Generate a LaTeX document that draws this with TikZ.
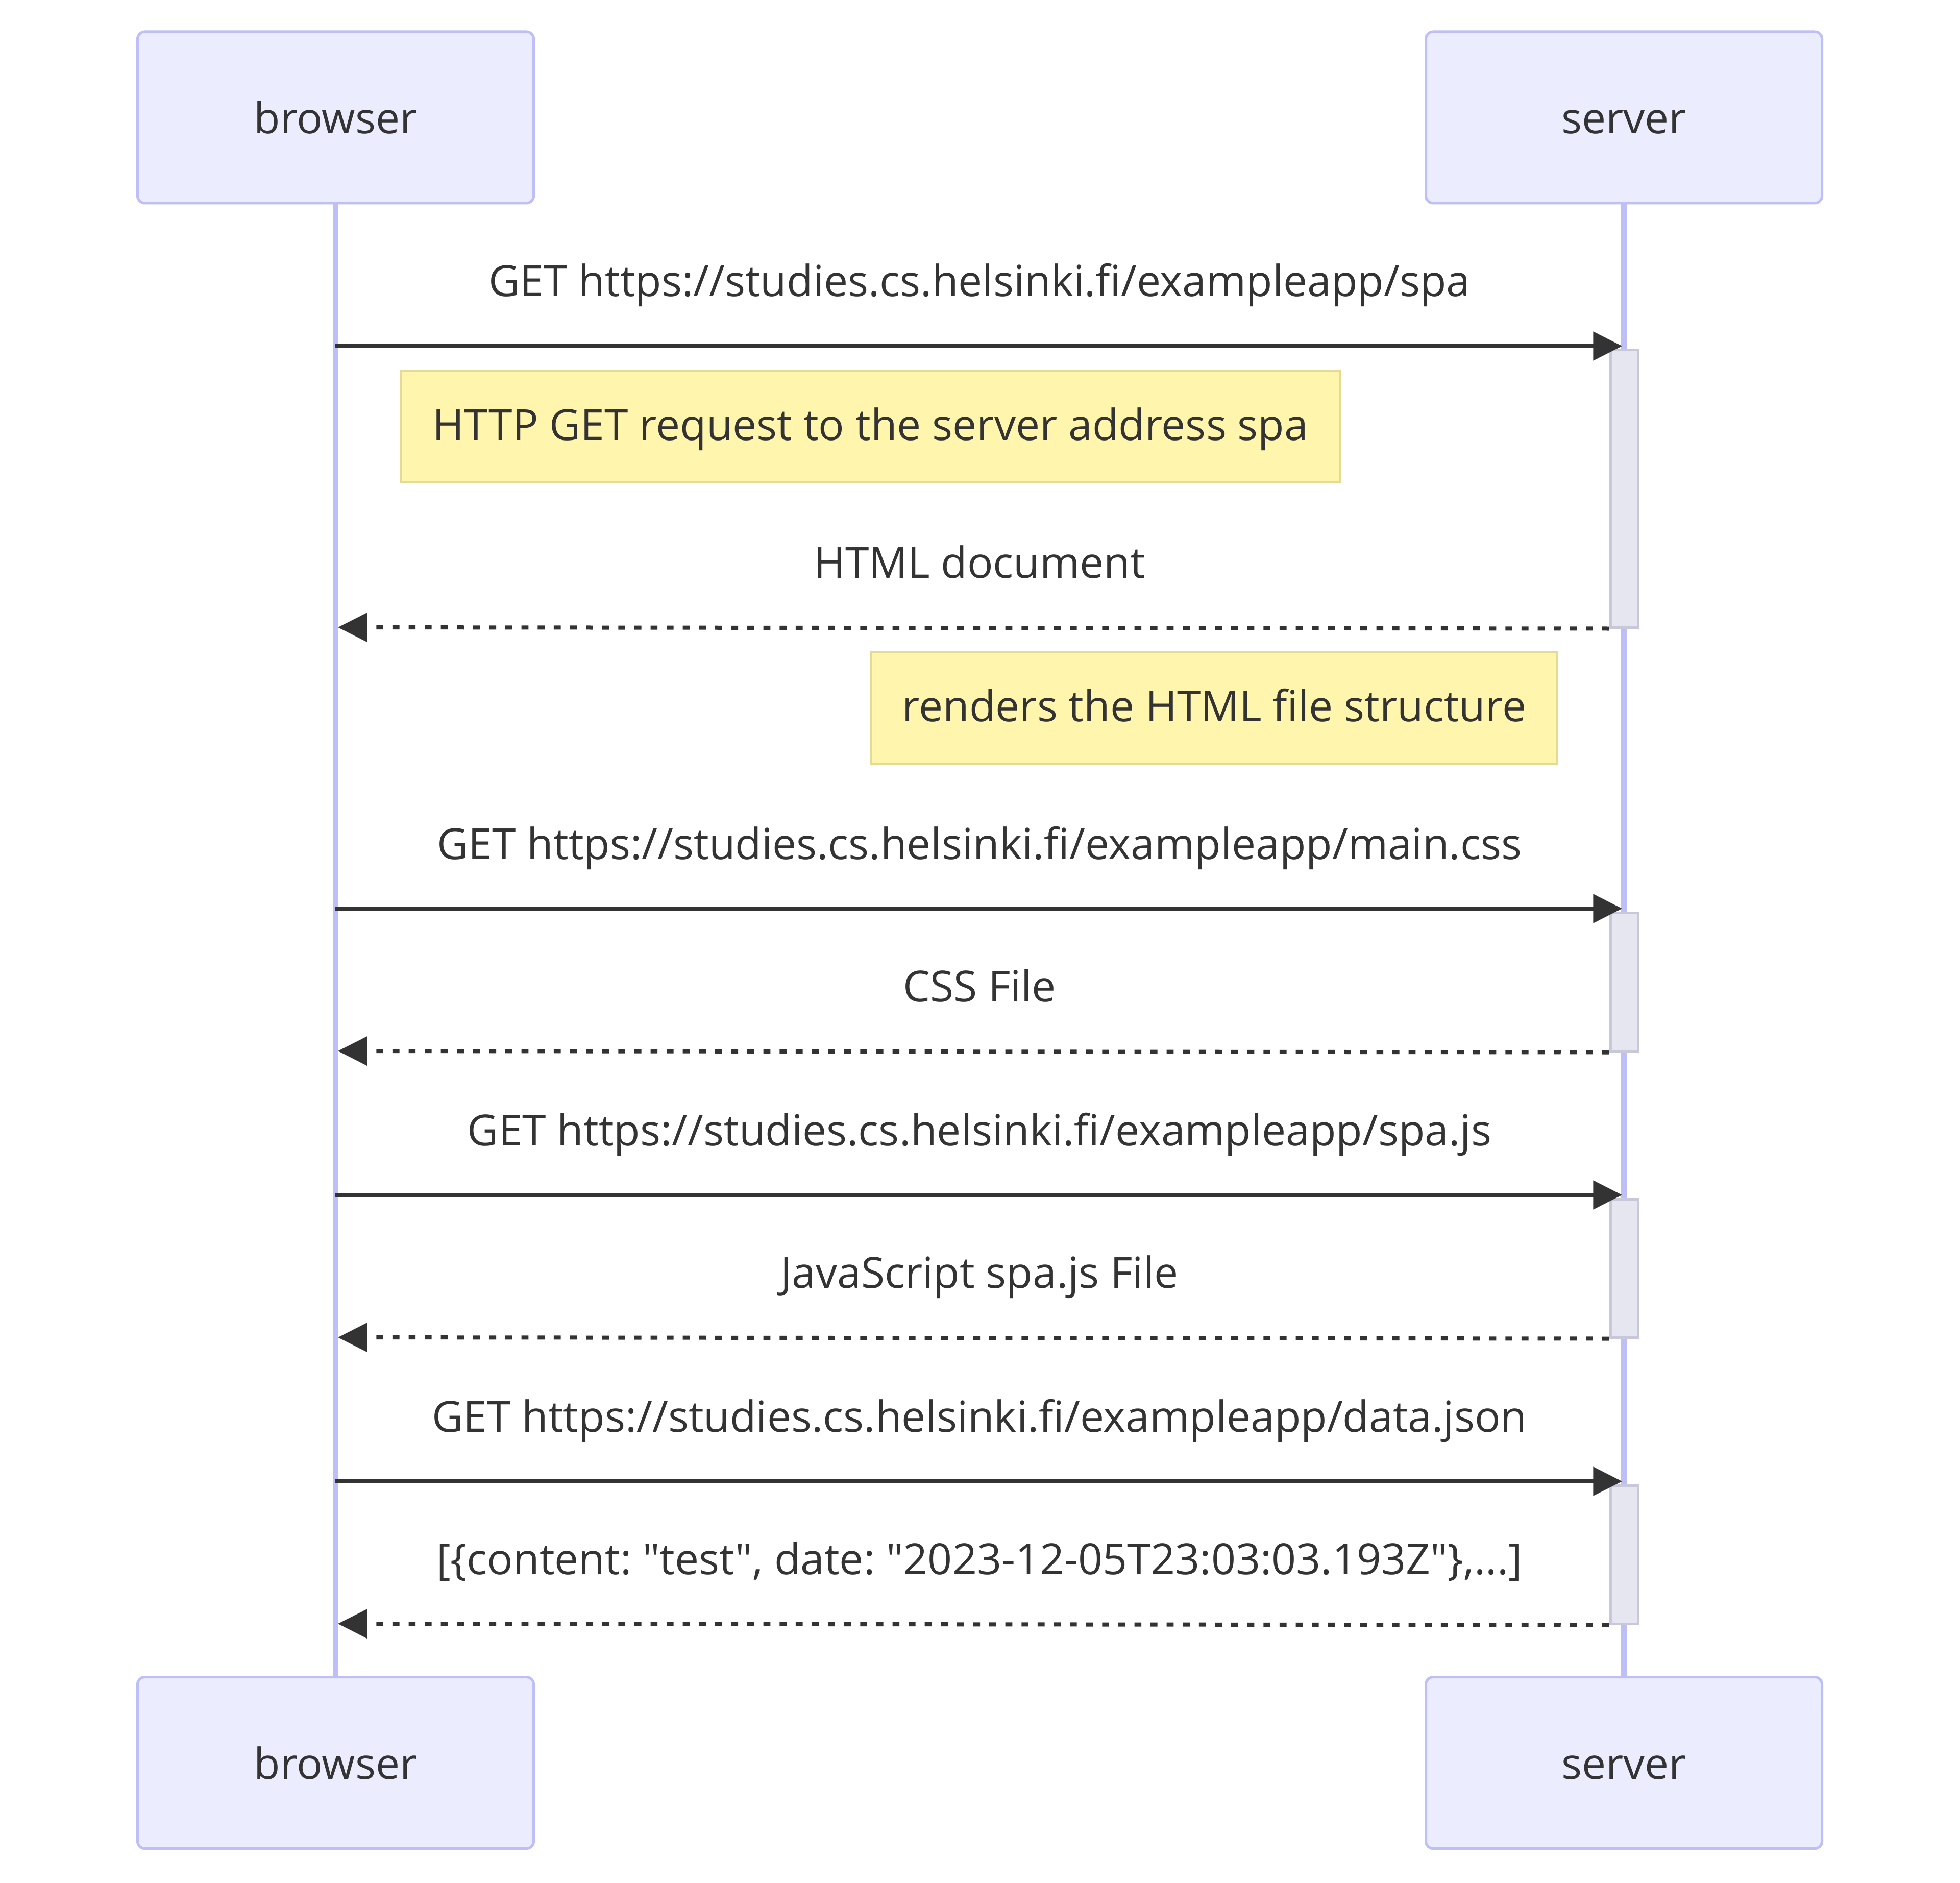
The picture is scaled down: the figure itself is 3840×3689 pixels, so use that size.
\documentclass[tikz,border=0pt]{standalone}
\usepackage{fontspec}
\setmainfont{Open Sans}[Ligatures=TeXOff]
\usetikzlibrary{arrows.meta}
\definecolor{actfill}{HTML}{ECECFF}
\definecolor{actline}{HTML}{BFBFF7}
\definecolor{txt}{HTML}{333333}
\definecolor{notefill}{HTML}{FFF5AD}
\definecolor{noteline}{HTML}{E3DA95}
\definecolor{actvfill}{HTML}{E6E6F0}
\definecolor{actvline}{HTML}{C8C8DA}
\frenchspacing
\begin{document}
\begin{tikzpicture}[x=0.25pt,y=-0.25pt,
 every node/.style={font=\fontsize{21pt}{25pt}\selectfont\frenchspacing, text=txt},
 actor/.style={draw=actline, fill=actfill, line width=1.25pt, rounded corners=3.5pt, minimum width=194pt, minimum height=84pt, inner sep=0pt, text height=16pt, text depth=0pt},
 lifeline/.style={draw=actline, line width=2.6pt},
 actv/.style={draw=actvline, fill=actvfill, line width=1.25pt, minimum width=13.5pt, inner sep=0pt},
 note/.style={draw=noteline, fill=notefill, line width=1.2pt, minimum height=54.5pt, inner sep=0pt, text height=17.2pt, text depth=3.8pt},
 msg/.style={draw=txt, line width=2pt, -{Triangle[length=14.2pt,width=13.8pt]}},
 reply/.style={msg, dash pattern=on 3.4pt off 4.5pt},
 lbl/.style={inner sep=0pt, text height=16pt, text depth=5pt},
]
\fill[white] (0,0) rectangle (3840,3689);
\useasboundingbox (0,0) rectangle (3840,3689);

% actors
\node[actor] (bt) at (657.5,230) {browser};
\node[actor] (st) at (3181.5,230) {server};
\node[actor] (bb) at (657.5,3453.5) {browser};
\node[actor] (sb) at (3181.5,3453.5) {server};

% lifelines
\draw[lifeline] (bt.south) -- (bb.north);
\draw[lifeline] (st.south) -- (sb.north);

% activations
\node[actv, minimum height=135.75pt] (a1) at (3182,957.5) {};
\node[actv, minimum height=67.75pt] (a2) at (3182,1923.5) {};
\node[actv, minimum height=67.75pt] (a3) at (3182,2484.5) {};
\node[actv, minimum height=67.75pt] (a4) at (3182,3045.5) {};

% endpoint coordinates
\coordinate (b1) at (657,678);   \coordinate (s1) at (3178,678);
\coordinate (b2) at (662,1229);
\coordinate (b3) at (657,1780);  \coordinate (s3) at (3178,1780);
\coordinate (b4) at (662,2059);
\coordinate (b5) at (657,2341);  \coordinate (s5) at (3178,2341);
\coordinate (b6) at (662,2620);
\coordinate (b7) at (657,2902);  \coordinate (s7) at (3178,2902);
\coordinate (b8) at (662,3181);

% messages
\node[lbl] (t1) at (1919,559) {GET https://studies.cs.helsinki.fi/exampleapp/spa};
\draw[msg] (b1) -- (s1);

\node[note, minimum width=459.75pt] (n1) at (1705.5,836) {HTTP GET request to the server address spa};

\node[lbl] (t2) at (1919,1110) {HTML document};
\draw[reply] (a1.south west) -- (b2);

\node[note, minimum width=336pt] (n2) at (2379,1387) {renders the HTML file structure};

\node[lbl] (t3) at (1919,1661) {GET https://studies.cs.helsinki.fi/exampleapp/main.css};
\draw[msg] (b3) -- (s3);

\node[lbl] (t4) at (1919,1940) {CSS File};
\draw[reply] (a2.south west) -- (b4);

\node[lbl] (t5) at (1919,2222) {GET https://studies.cs.helsinki.fi/exampleapp/spa.js};
\draw[msg] (b5) -- (s5);

\node[lbl] (t6) at (1919,2501) {JavaScript spa.js File};
\draw[reply] (a3.south west) -- (b6);

\node[lbl] (t7) at (1919,2783) {GET https://studies.cs.helsinki.fi/exampleapp/data.json};
\draw[msg] (b7) -- (s7);

\node[lbl] (t8) at (1919,3062) {[\{content: "test", date: "2023-12-05T23:03:03.193Z"\},...]};
\draw[reply] (a4.south west) -- (b8);
\end{tikzpicture}
\end{document}
